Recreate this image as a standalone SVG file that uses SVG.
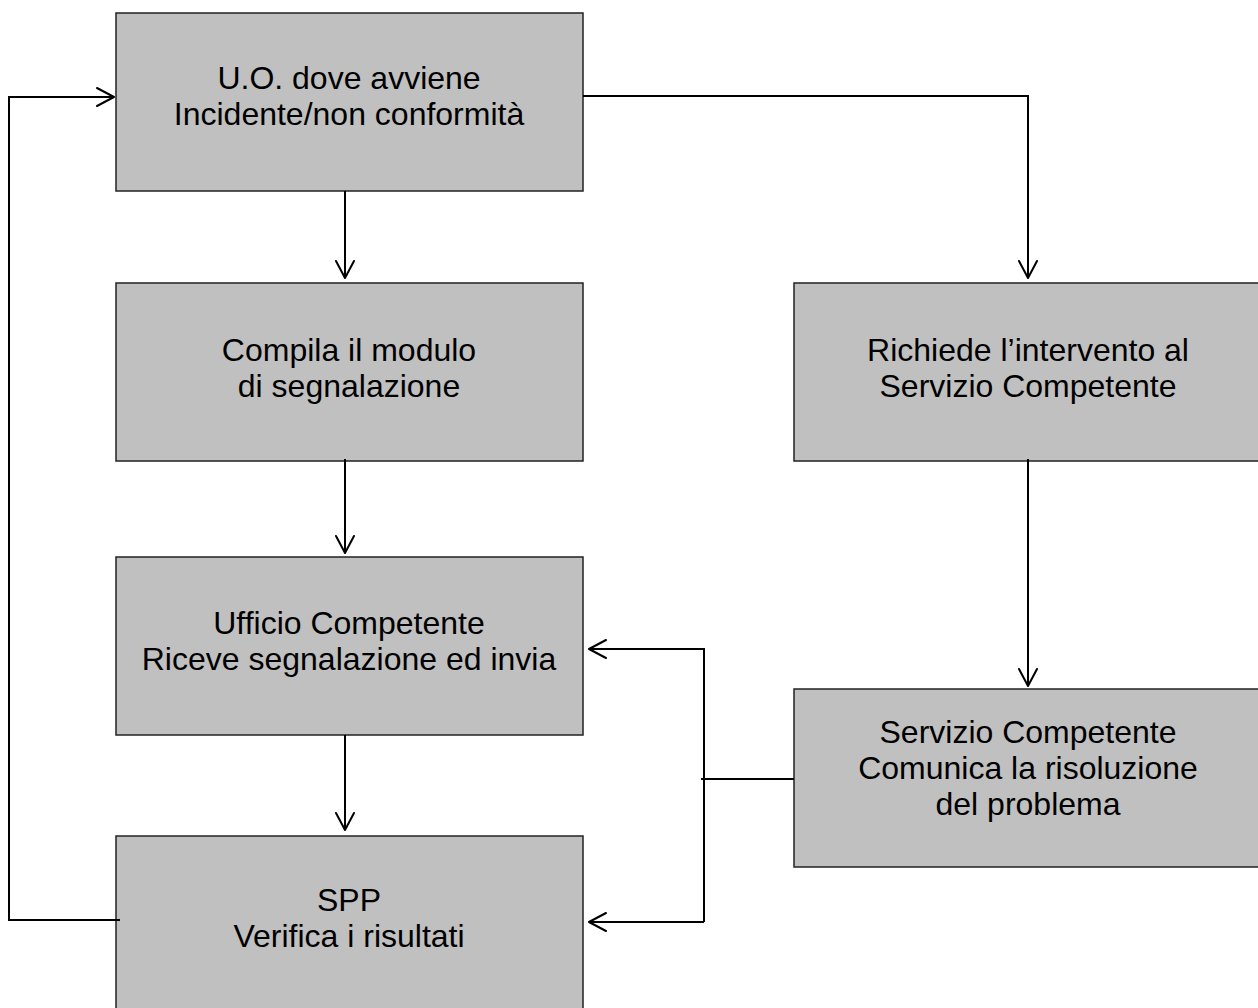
<svg xmlns="http://www.w3.org/2000/svg" width="1258" height="1008" viewBox="0 0 1258 1008">
<style>
.box{fill:#c0c0c0;stroke:#222;stroke-width:1.5}
.lbl{font-family:"Liberation Sans",Arial,sans-serif;font-size:32px;fill:#000;text-anchor:middle}
.con{fill:none;stroke:#000;stroke-width:2}
.ah{fill:none;stroke:#000;stroke-width:2;stroke-linecap:round;stroke-linejoin:round}
</style>
<rect width="1258" height="1008" fill="#fff"/>
<g id="n1"><rect class="box" x="116" y="13" width="467" height="178"/>
<text class="lbl" x="349" y="89">U.O. dove avviene</text>
<text class="lbl" x="349" y="125">Incidente/non conformità</text></g>
<g id="n2"><rect class="box" x="116" y="283" width="467" height="178"/>
<text class="lbl" x="349" y="361">Compila il modulo</text>
<text class="lbl" x="349" y="397">di segnalazione</text></g>
<g id="n3"><rect class="box" x="116" y="557" width="467" height="178"/>
<text class="lbl" x="349" y="634">Ufficio Competente</text>
<text class="lbl" x="349" y="670">Riceve segnalazione ed invia</text></g>
<g id="n4"><rect class="box" x="116" y="836" width="467" height="180"/>
<text class="lbl" x="349" y="911">SPP</text>
<text class="lbl" x="349" y="947">Verifica i risultati</text></g>
<g id="n5"><rect class="box" x="794" y="283" width="470" height="178"/>
<text class="lbl" x="1028" y="361">Richiede l’intervento al</text>
<text class="lbl" x="1028" y="397">Servizio Competente</text></g>
<g id="n6"><rect class="box" x="794" y="689" width="470" height="178"/>
<text class="lbl" x="1028" y="743">Servizio Competente</text>
<text class="lbl" x="1028" y="779">Comunica la risoluzione</text>
<text class="lbl" x="1028" y="815">del problema</text></g>
<g id="connectors">
<path class="con" d="M345 191V278"/><path class="ah" d="M336 261L345 278L354 261"/>
<path class="con" d="M583 96H1028V278"/><path class="ah" d="M1019 261L1028 278L1037 261"/>
<path class="con" d="M345 459V553"/><path class="ah" d="M336 536L345 553L354 536"/>
<path class="con" d="M1028 459V686"/><path class="ah" d="M1019 669L1028 686L1037 669"/>
<path class="con" d="M345 735V830"/><path class="ah" d="M336 813L345 830L354 813"/>
<path class="con" d="M794 779H701"/>
<path class="con" d="M704 922V649H589"/><path class="ah" d="M606 640L589 649L606 658"/>
<path class="con" d="M704 922H589"/><path class="ah" d="M606 913L589 922L606 931"/>
<path class="con" d="M120 920H9V97H114"/><path class="ah" d="M97 88L114 97L97 106"/>
</g>
</svg>
